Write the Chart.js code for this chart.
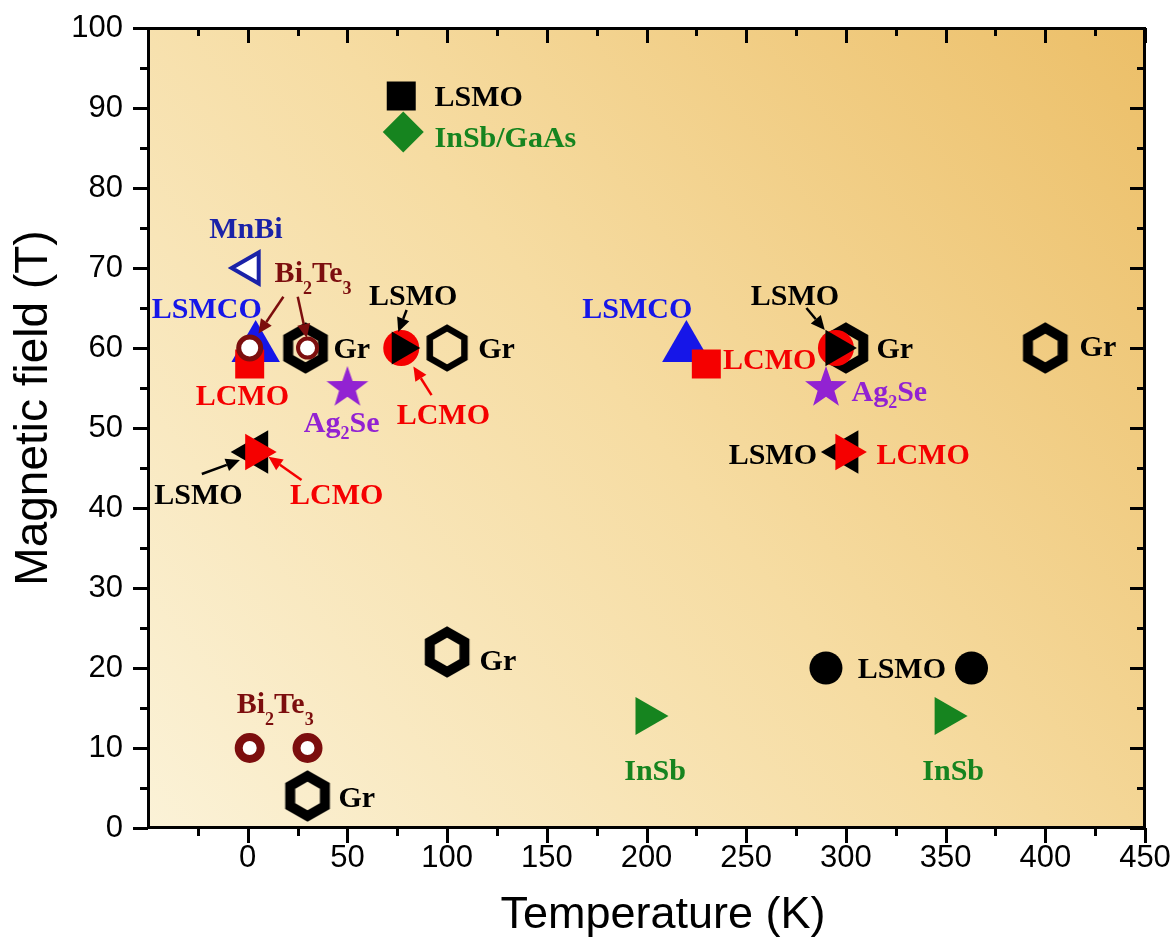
<!DOCTYPE html>
<html>
<head>
<meta charset="utf-8">
<script src="https://cdn.jsdelivr.net/npm/chart.js@4.4.1/dist/chart.umd.min.js"></script>
<style>
  html, body { margin: 0; padding: 0; background: #ffffff; }
  canvas { display: block; }
</style>
</head>
<body>
<canvas id="chart" width="1174" height="952"></canvas>
<script>
// [temperature (K), magnetic field (T)] for each material / marker type
const lsmoSquare      = [[77, 91.5]];
const insbGaasDiamond = [[78, 87]];
const mnbiOpenTri     = [[1, 70]];
const lsmcoTri        = [[4, 60], [220, 60]];
const lcmoSquare      = [[1, 58], [230, 58]];
const bi2te3RingHigh  = [[1, 60], [30, 60]];
const bi2te3RingLow   = [[1, 10], [30, 10]];
const grHexThick      = [[29, 60], [300, 60], [400, 60], [100, 22], [30, 4]];
const grHexThin       = [[100, 60]];
const lcmoCircle      = [[77, 60], [295, 60]];
const lsmoRightTri    = [[77, 60], [295, 60]];
const lsmoLeftTri     = [[4, 47], [300, 47]];
const lcmoRightTri    = [[4, 47], [300, 47]];
const ag2seStar       = [[50, 55], [290, 55]];
const lsmoCircle      = [[290, 20], [363, 20]];
const insbTri         = [[200, 14], [350, 14]];

// axis ticks
const xTickValues  = [0, 50, 100, 150, 200, 250, 300, 350, 400, 450];
const xMinorValues = [-25, 25, 75, 125, 175, 225, 275, 325, 375, 425];
const yTickValues  = [0, 10, 20, 30, 40, 50, 60, 70, 80, 90, 100];
const yMinorValues = [5, 15, 25, 35, 45, 55, 65, 75, 85, 95];

const BLACK = '#000000', RED = '#f50000', BLUE = '#1616e8', NAVY = '#1a22a8',
      GREEN = '#16841f', PURPLE = '#9222d2', MAROON = '#7c0e0e';

// text annotations: rich text parts ([text, isSubscript]), anchor in data units
const annotations = [
  { parts: [['LSMO', 0]], at: [93.7, 91.5], align: 'left', color: BLACK },
  { parts: [['InSb/GaAs', 0]], at: [93.7, 86.4], align: 'left', color: GREEN },
  { parts: [['MnBi', 0]], at: [-0.9, 75], align: 'center', color: NAVY },
  { parts: [['LSMCO', 0]], at: [-20.5, 65], align: 'center', color: BLUE },
  { parts: [['LCMO', 0]], at: [-2.6, 54.1], align: 'center', color: RED },
  { parts: [['Bi', 0], ['2', 1], ['Te', 0], ['3', 1]], at: [13.5, 69.5], align: 'left', color: MAROON, sub: 12 },
  { parts: [['Gr', 0]], at: [43, 60], align: 'left', color: BLACK },
  { parts: [['LSMO', 0]], at: [83, 66.6], align: 'center', color: BLACK },
  { parts: [['Gr', 0]], at: [115.6, 60], align: 'left', color: BLACK },
  { parts: [['Ag', 0], ['2', 1], ['Se', 0]], at: [47.1, 50.8], align: 'center', color: PURPLE, sub: 7.5 },
  { parts: [['LCMO', 0]], at: [98.1, 51.7], align: 'center', color: RED },
  { parts: [['LSMO', 0]], at: [-24.7, 41.7], align: 'center', color: BLACK },
  { parts: [['LCMO', 0]], at: [44.6, 41.7], align: 'center', color: RED },
  { parts: [['LSMCO', 0]], at: [195.4, 65], align: 'center', color: BLUE },
  { parts: [['LCMO', 0]], at: [238.4, 58.6], align: 'left', color: RED },
  { parts: [['LSMO', 0]], at: [274.4, 66.6], align: 'center', color: BLACK },
  { parts: [['Gr', 0]], at: [315.3, 60], align: 'left', color: BLACK },
  { parts: [['Ag', 0], ['2', 1], ['Se', 0]], at: [302.8, 54.65], align: 'left', color: PURPLE, sub: 7.5 },
  { parts: [['LSMO', 0]], at: [285.5, 46.8], align: 'right', color: BLACK },
  { parts: [['LCMO', 0]], at: [315.3, 46.8], align: 'left', color: RED },
  { parts: [['Gr', 0]], at: [417.2, 60.2], align: 'left', color: BLACK },
  { parts: [['Gr', 0]], at: [116.3, 21], align: 'left', color: BLACK },
  { parts: [['LSMO', 0]], at: [305.9, 20], align: 'left', color: BLACK },
  { parts: [['InSb', 0]], at: [204.3, 7.3], align: 'center', color: GREEN },
  { parts: [['InSb', 0]], at: [353.8, 7.3], align: 'center', color: GREEN },
  { parts: [['Bi', 0], ['2', 1], ['Te', 0], ['3', 1]], at: [-5.5, 15.6], align: 'left', color: MAROON, sub: 12 },
  { parts: [['Gr', 0]], at: [45.5, 3.9], align: 'left', color: BLACK }
];

// pointer arrows: from label to marker, in data units
const arrows = [
  { from: [17.9, 66.4], to: [5.4, 61.8], color: MAROON },
  { from: [25.1, 66.4], to: [29.6, 61.25], color: MAROON },
  { from: [79.7, 64.75], to: [75.5, 62], color: BLACK },
  { from: [92.2, 54.1], to: [83.1, 57.7], color: RED },
  { from: [-23, 44.25], to: [-3.9, 46], color: BLACK },
  { from: [27, 43.5], to: [10.4, 46.4], color: RED },
  { from: [280.2, 65], to: [289.4, 62.25], color: BLACK }
];

// marker images for shapes Chart.js has no built-in for
function hexImage(R, w) {
  const size = 2 * Math.ceil(R + w) + 4;
  const c = document.createElement('canvas');
  c.width = size; c.height = size;
  const g = c.getContext('2d');
  g.translate(size / 2, size / 2);
  g.beginPath();
  for (let i = 0; i < 6; i++) {
    const a = Math.PI / 3 * i;
    g.lineTo(R * Math.sin(a), -R * Math.cos(a));
  }
  g.closePath();
  g.lineWidth = w;
  g.lineJoin = 'miter';
  g.strokeStyle = BLACK;
  g.stroke();
  return c;
}
function starImage(R, color) {
  const size = 2 * Math.ceil(R) + 4;
  const c = document.createElement('canvas');
  c.width = size; c.height = size;
  const g = c.getContext('2d');
  g.translate(size / 2, size / 2);
  g.beginPath();
  for (let i = 0; i < 10; i++) {
    const r = i % 2 === 0 ? R : R * 0.4;
    const a = Math.PI / 5 * i;
    g.lineTo(r * Math.sin(a), -r * Math.cos(a));
  }
  g.closePath();
  g.fillStyle = color;
  g.fill();
  return c;
}
const hexThickImg = hexImage(20, 10);
const hexThinImg = hexImage(20, 6.5);
const starImg = starImage(22, PURPLE);

const pts = arr => arr.map(([x, y]) => ({ x, y }));

function series(data, opts) {
  return Object.assign({
    data: pts(data),
    showLine: false,
    borderWidth: 0,
    pointBorderWidth: 0,
    pointHoverBorderWidth: 0,
    order: 5
  }, opts, {
    pointHoverRadius: opts.pointRadius,
    pointHoverBackgroundColor: opts.pointBackgroundColor,
    pointHoverBorderColor: opts.pointBorderColor
  });
}

const datasets = [
  series(lsmoSquare, { pointStyle: 'rect', pointRadius: 20.5, pointBackgroundColor: BLACK, pointBorderColor: BLACK }),
  series(insbGaasDiamond, { pointStyle: 'rectRot', pointRadius: 20.5, pointBackgroundColor: GREEN, pointBorderColor: GREEN }),
  series(mnbiOpenTri, { pointStyle: 'triangle', pointRotation: 270, pointRadius: 18, pointBackgroundColor: '#ffffff', pointBorderColor: NAVY, pointBorderWidth: 4, pointHoverBorderWidth: 4 }),
  series(lsmcoTri, { pointStyle: 'triangle', pointRadius: 28, pointBackgroundColor: BLUE, pointBorderColor: BLUE, order: 3 }),
  series(lcmoSquare, { pointStyle: 'rect', pointRadius: 20.5, pointBackgroundColor: RED, pointBorderColor: RED, order: 2 }),
  series(bi2te3RingHigh, { pointStyle: 'circle', pointRadius: [11, 9.5], pointBackgroundColor: '#ffffff', pointBorderColor: MAROON, pointBorderWidth: [5, 4], pointHoverBorderWidth: [5, 4], order: 1 }),
  series(bi2te3RingLow, { pointStyle: 'circle', pointRadius: 11, pointBackgroundColor: '#ffffff', pointBorderColor: MAROON, pointBorderWidth: 8, pointHoverBorderWidth: 8 }),
  series(grHexThick, { pointStyle: hexThickImg, pointRadius: 22, order: 4 }),
  series(grHexThin, { pointStyle: hexThinImg, pointRadius: 22, order: 4 }),
  series(lcmoCircle, { pointStyle: 'circle', pointRadius: 18, pointBackgroundColor: RED, pointBorderColor: RED, order: 2 }),
  series(lsmoRightTri, { pointStyle: 'triangle', pointRotation: 90, pointRadius: [19, 21], pointBackgroundColor: BLACK, pointBorderColor: BLACK, order: 1 }),
  series(lsmoLeftTri, { pointStyle: 'triangle', pointRotation: 270, pointRadius: 25, pointBackgroundColor: BLACK, pointBorderColor: BLACK, order: 2 }),
  series(lcmoRightTri, { pointStyle: 'triangle', pointRotation: 90, pointRadius: 21, pointBackgroundColor: RED, pointBorderColor: RED, order: 1 }),
  series(ag2seStar, { pointStyle: starImg, pointRadius: 22 }),
  series(lsmoCircle, { pointStyle: 'circle', pointRadius: 16.5, pointBackgroundColor: BLACK, pointBorderColor: BLACK }),
  series(insbTri, { pointStyle: 'triangle', pointRotation: 90, pointRadius: 22, pointBackgroundColor: GREEN, pointBorderColor: GREEN })
];

// plot background: diagonal cream-to-amber wash
const backgroundPlugin = {
  id: 'plotBackground',
  beforeDraw(chart) {
    const { ctx, chartArea: a } = chart;
    const grad = ctx.createLinearGradient(a.left, a.bottom, a.right, a.top);
    grad.addColorStop(0, '#fbf2d7');
    grad.addColorStop(0.5, '#f6dca2');
    grad.addColorStop(1, '#ecbf68');
    ctx.save();
    ctx.fillStyle = grad;
    ctx.fillRect(a.left, a.top, a.right - a.left, a.bottom - a.top);
    ctx.restore();
  }
};

// frame with outward ticks (bottom/left) and inward ticks (top/right)
const framePlugin = {
  id: 'frameTicks',
  afterDatasetsDraw(chart) {
    const { ctx, chartArea: a, scales: { x, y } } = chart;
    const MAJ = 15, MIN = 8;
    ctx.save();
    ctx.strokeStyle = BLACK;
    ctx.lineWidth = 3;
    ctx.lineCap = 'butt';
    ctx.beginPath();
    const vTick = (v, len) => {
      const px = Math.round(x.getPixelForValue(v)) + 0.5;
      ctx.moveTo(px, a.bottom); ctx.lineTo(px, a.bottom + len);
      ctx.moveTo(px, a.top); ctx.lineTo(px, a.top + len);
    };
    const hTick = (v, len) => {
      const py = Math.round(y.getPixelForValue(v)) + 0.5;
      ctx.moveTo(a.left, py); ctx.lineTo(a.left - len, py);
      ctx.moveTo(a.right, py); ctx.lineTo(a.right - len, py);
    };
    xTickValues.forEach(v => vTick(v, MAJ));
    xMinorValues.forEach(v => vTick(v, MIN));
    yTickValues.forEach(v => hTick(v, MAJ));
    yMinorValues.forEach(v => hTick(v, MIN));
    ctx.stroke();
    ctx.strokeRect(a.left + 0.5, a.top + 0.5, a.right - a.left - 1, a.bottom - a.top - 1);
    ctx.restore();
  }
};

function drawRich(ctx, item, px, py) {
  const size = 30, subSize = 18;
  const main = `bold ${size}px "Liberation Serif", "Times New Roman", serif`;
  const sub = `bold ${subSize}px "Liberation Serif", "Times New Roman", serif`;
  let total = 0;
  const widths = item.parts.map(([t, s]) => {
    ctx.font = s ? sub : main;
    const w = ctx.measureText(t).width;
    total += w;
    return w;
  });
  let cx = item.align === 'left' ? px : item.align === 'right' ? px - total : px - total / 2;
  const base = py + size * 0.33;
  ctx.fillStyle = item.color;
  ctx.textAlign = 'left';
  ctx.textBaseline = 'alphabetic';
  item.parts.forEach(([t, s], i) => {
    ctx.font = s ? sub : main;
    ctx.fillText(t, cx, base + (s ? (item.sub || 8) : 0));
    cx += widths[i];
  });
}

function drawArrow(ctx, x0, y0, x1, y1, color) {
  const ang = Math.atan2(y1 - y0, x1 - x0);
  const head = 14, half = 6.5;
  const bx = x1 - head * Math.cos(ang), by = y1 - head * Math.sin(ang);
  ctx.strokeStyle = color;
  ctx.fillStyle = color;
  ctx.lineWidth = 2.5;
  ctx.beginPath();
  ctx.moveTo(x0, y0);
  ctx.lineTo(bx, by);
  ctx.stroke();
  ctx.beginPath();
  ctx.moveTo(x1, y1);
  ctx.lineTo(bx + half * Math.sin(ang), by - half * Math.cos(ang));
  ctx.lineTo(bx - half * Math.sin(ang), by + half * Math.cos(ang));
  ctx.closePath();
  ctx.fill();
}

const annotationPlugin = {
  id: 'labelsArrows',
  afterDraw(chart) {
    const { ctx, scales: { x, y } } = chart;
    ctx.save();
    arrows.forEach(ar => drawArrow(ctx,
      x.getPixelForValue(ar.from[0]), y.getPixelForValue(ar.from[1]),
      x.getPixelForValue(ar.to[0]), y.getPixelForValue(ar.to[1]), ar.color));
    annotations.forEach(item => drawRich(ctx, item,
      x.getPixelForValue(item.at[0]), y.getPixelForValue(item.at[1])));

    // axis titles
    ctx.fillStyle = BLACK;
    ctx.textAlign = 'center';
    ctx.textBaseline = 'alphabetic';
    ctx.font = '45px "Liberation Sans", Arial, sans-serif';
    ctx.fillText('Temperature (K)', 663, 928);
    ctx.translate(47, 408);
    ctx.rotate(-Math.PI / 2);
    ctx.font = '46px "Liberation Sans", Arial, sans-serif';
    ctx.fillText('Magnetic field (T)', 0, 0);
    ctx.restore();
  }
};

const tickFont = { family: '"Liberation Sans", Arial, sans-serif', size: 31 };

new Chart(document.getElementById('chart'), {
  type: 'scatter',
  data: { datasets },
  options: {
    responsive: false,
    animation: false,
    events: [],
    layout: { padding: { top: 28, right: 29, left: 0, bottom: 0 } },
    plugins: { legend: { display: false }, tooltip: { enabled: false } },
    scales: {
      x: {
        type: 'linear',
        min: -50,
        max: 450,
        afterBuildTicks: s => { s.ticks = xTickValues.map(v => ({ value: v })); },
        afterFit: s => { s.height = 124; s.paddingLeft = 0; s.paddingRight = 0; },
        ticks: { font: tickFont, color: BLACK, padding: 12, autoSkip: false, maxRotation: 0 },
        grid: { display: false, drawTicks: false },
        border: { display: false }
      },
      y: {
        type: 'linear',
        min: 0,
        max: 100,
        afterBuildTicks: s => { s.ticks = yTickValues.map(v => ({ value: v })); },
        afterFit: s => { s.width = 148; s.paddingTop = 0; s.paddingBottom = 0; },
        ticks: { font: tickFont, color: BLACK, padding: 25, autoSkip: false },
        grid: { display: false, drawTicks: false },
        border: { display: false }
      }
    }
  },
  plugins: [backgroundPlugin, framePlugin, annotationPlugin]
});
</script>
</body>
</html>
